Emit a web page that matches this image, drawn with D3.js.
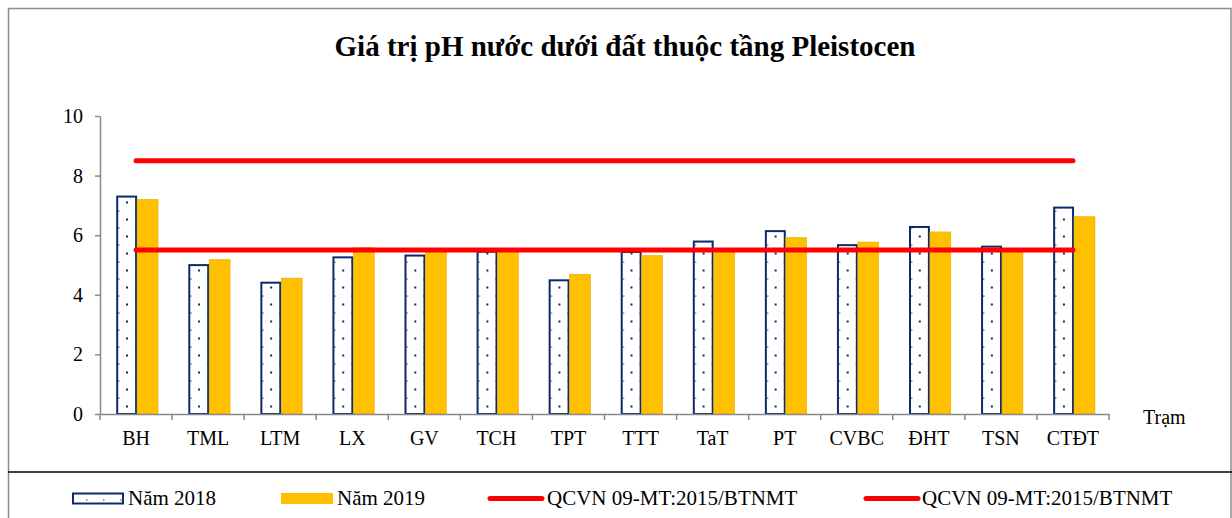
<!DOCTYPE html>
<html>
<head>
<meta charset="utf-8">
<script src="https://cdn.jsdelivr.net/npm/d3@7/dist/d3.min.js"></script>
<style>
  body { margin: 0; background: #fff; }
  svg { display: block; font-family: "Liberation Serif", "Times New Roman", serif; }
</style>
</head>
<body>
<svg id="chart" width="1232" height="518"></svg>
<script>
// data
const stations = ['BH', 'TML', 'LTM', 'LX', 'GV', 'TCH', 'TPT', 'TTT', 'TaT', 'PT', 'CVBC', 'ĐHT', 'TSN', 'CTĐT'];
const ph2018 = [7.33, 5.03, 4.44, 5.29, 5.35, 5.48, 4.52, 5.47, 5.82, 6.17, 5.70, 6.31, 5.65, 6.96];
const ph2019 = [7.20, 5.18, 4.56, 5.58, 5.50, 5.50, 4.69, 5.32, 5.50, 5.92, 5.77, 6.11, 5.50, 6.62];
const limits = [8.5, 5.5];
const yTicks = [0, 2, 4, 6, 8, 10];
const seriesNames = ['Năm 2018', 'Năm 2019'];
const limitName = 'QCVN 09-MT:2015/BTNMT';

const svg = d3.select('#chart');
const axisColor = '#898989';
const navy = '#0c2a6a';
const yellow = '#ffc000';
const red = '#ff0000';

// dotted fill for 2018 bars
let defs = svg.append('defs');
let pat = defs.append('pattern')
  .attr('id', 'dots')
  .attr('patternUnits', 'userSpaceOnUse')
  .attr('width', 17).attr('height', 17);
pat.append('rect').attr('width', 17).attr('height', 17).attr('fill', '#fff');
pat.append('rect').attr('x', 9).attr('y', 14.5).attr('width', 2).attr('height', 2).attr('fill', navy);
pat.append('rect').attr('x', 1.2).attr('y', 6.5).attr('width', 1.2).attr('height', 1.2).attr('fill', navy);

// frame
svg.append('rect')
  .attr('x', 8.5).attr('y', 8.5).attr('width', 1222.5).attr('height', 520)
  .attr('fill', 'none').attr('stroke', '#8c8c8c').attr('stroke-width', 1.5);
svg.append('line')
  .attr('x1', 8).attr('x2', 1232).attr('y1', 472).attr('y2', 472)
  .attr('stroke', '#000').attr('stroke-width', 1.5);

// title
svg.append('text')
  .attr('x', 625).attr('y', 56)
  .attr('text-anchor', 'middle')
  .attr('font-size', 29).attr('font-weight', 'bold')
  .text('Giá trị pH nước dưới đất thuộc tầng Pleistocen');

let x = d3.scaleBand().domain(stations).range([100, 1109]);
let y = d3.scaleLinear().domain([0, 10]).range([414, 116]);
let bw = x.bandwidth();
let x1 = d3.scaleBand().domain([0, 1]).range([bw * 0.225, bw * 0.805]);

// bars
let groups = svg.append('g').selectAll('g')
  .data(stations)
  .enter().append('g')
  .attr('transform', d => `translate(${x(d)},0)`);

groups.append('rect')
  .attr('x', x1(0) + 1)
  .attr('y', (d, i) => y(ph2018[i]) + 1)
  .attr('width', x1.bandwidth() - 2)
  .attr('height', (d, i) => y(0) - y(ph2018[i]) - 1)
  .attr('fill', 'url(#dots)')
  .attr('stroke', navy).attr('stroke-width', 2);

groups.append('rect')
  .attr('x', x1(1))
  .attr('y', (d, i) => y(ph2019[i]))
  .attr('width', x1.bandwidth())
  .attr('height', (d, i) => y(0) - y(ph2019[i]))
  .attr('fill', yellow)
  .attr('stroke', '#e6ad00').attr('stroke-width', 0.6);

// axes
let yAxis = svg.append('g')
  .attr('transform', 'translate(100,0)')
  .call(d3.axisLeft(y).tickValues(yTicks).tickSize(5).tickPadding(12).tickSizeOuter(0));
yAxis.selectAll('text').attr('font-size', 20).attr('fill', '#000').attr('font-family', 'Liberation Serif');

let xAxis = svg.append('g')
  .attr('transform', 'translate(0,414)')
  .call(d3.axisBottom(x).tickSize(0).tickPadding(17));
xAxis.selectAll('text').attr('font-size', 20).attr('fill', '#000').attr('font-family', 'Liberation Serif');

let edges = stations.map(d => x(d)).concat([x.range()[1]]);
xAxis.selectAll('.edge').data(edges).enter().append('line')
  .attr('x1', d => d).attr('x2', d => d)
  .attr('y1', 0).attr('y2', 6);

yAxis.selectAll('line, path').attr('stroke', axisColor).attr('stroke-width', 1.5);
xAxis.selectAll('line, path').attr('stroke', axisColor).attr('stroke-width', 1.5);

svg.append('text')
  .attr('x', 1143).attr('y', 424)
  .attr('font-size', 20)
  .text('Trạm');

// limit lines
let line = d3.line()
  .x(d => x(d) + bw / 2);
limits.forEach(v => {
  svg.append('path')
    .datum(stations)
    .attr('d', line.y(() => y(v)))
    .attr('fill', 'none')
    .attr('stroke', red).attr('stroke-width', 5)
    .attr('stroke-linecap', 'round');
});

// legend
let lg = svg.append('g').attr('font-size', 21);
lg.append('rect').attr('x', 73).attr('y', 493.5).attr('width', 50).attr('height', 10)
  .attr('fill', 'url(#dots)').attr('stroke', navy).attr('stroke-width', 2);
lg.append('text').attr('x', 128).attr('y', 505).text(seriesNames[0]);
lg.append('rect').attr('x', 281).attr('y', 493).attr('width', 52).attr('height', 11)
  .attr('fill', yellow);
lg.append('text').attr('x', 337).attr('y', 505).text(seriesNames[1]);
[[490, 547], [866, 922]].forEach(p => {
  lg.append('line').attr('x1', p[0]).attr('x2', p[0] + 52).attr('y1', 498.5).attr('y2', 498.5)
    .attr('stroke', red).attr('stroke-width', 5).attr('stroke-linecap', 'round');
  lg.append('text').attr('x', p[1]).attr('y', 505).text(limitName);
});
</script>
</body>
</html>
